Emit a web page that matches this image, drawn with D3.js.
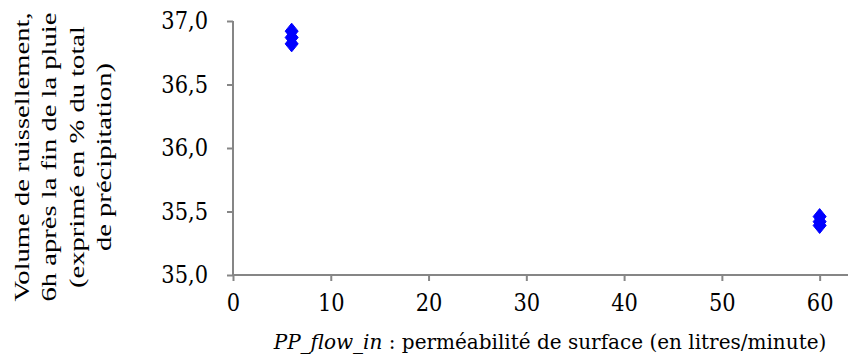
<!DOCTYPE html>
<html><head><meta charset="utf-8">
<script src="https://cdn.jsdelivr.net/npm/d3@7"></script>
<style>body{margin:0;background:#fff}svg{display:block}</style>
</head><body>
<svg id="c" width="861" height="356"></svg>
<script>
const xValues = [6, 6, 6, 60, 60, 60];
const yValues = [36.92, 36.87, 36.82, 35.46, 35.42, 35.39];
const xTicks = [0, 10, 20, 30, 40, 50, 60];
const yTicks = [35.0, 35.5, 36.0, 36.5, 37.0];
const yTitleLines = ["Volume de ruissellement,", "6h après la fin de la pluie", "(exprimé en % du total", "de précipitation)"];

const svg = d3.select("#c");
const x = d3.scaleLinear().domain([0, 62.9]).range([233, 848]);
const y = d3.scaleLinear().domain([35, 37]).range([275, 21]);
const axisColor = "#868686";
const fmt = d => d3.format(".1f")(d).replace(".", ",");

const xAxis = svg.append("g").attr("transform", "translate(0,275)")
  .call(d3.axisBottom(x).tickValues(xTicks).tickSize(6).tickPadding(10).tickFormat(d3.format("d")));
const yAxis = svg.append("g").attr("transform", "translate(233,0)")
  .call(d3.axisLeft(y).tickValues(yTicks).tickSize(6).tickPadding(19).tickFormat(fmt));
[xAxis, yAxis].forEach(a => {
  a.select(".domain").attr("stroke", axisColor).attr("stroke-width", 2);
  a.selectAll(".tick line").attr("stroke", axisColor).attr("stroke-width", 2);
  a.selectAll("text").attr("fill", "#000").attr("font-family", "DejaVu Serif").attr("font-size", 21)
    .attr("transform", "scale(1,1.15)");
});
xAxis.select(".domain").attr("d", `M${x(0)},0H${x.range()[1]}`);
yAxis.select(".domain").attr("d", `M0,${y(35)}V${y(37)}`);

const diamond = "M0,-8L6.5,0L0,8L-6.5,0Z";
svg.append("g").selectAll("path").data(xValues.map((v, i) => [v, yValues[i]])).join("path")
  .attr("d", diamond).attr("transform", d => `translate(${x(d[0])},${y(d[1])})`)
  .attr("fill", "#0000ff").attr("stroke", "#0000ff").attr("stroke-width", 1);

const xt = svg.append("text").attr("x", 550).attr("y", 349).attr("text-anchor", "middle")
  .attr("font-family", "DejaVu Serif").attr("font-size", 20).attr("fill", "#000");
xt.append("tspan").attr("font-style", "italic").text("PP_flow_in");
xt.append("tspan").text(" : perméabilité de surface (en litres/minute)");

const yt = svg.append("g").attr("transform", "translate(0,157) rotate(-90)");
yTitleLines.forEach((t, i) => {
  yt.append("text").attr("x", 0).attr("y", 29 + i * 27.5).attr("text-anchor", "middle")
    .attr("transform", "scale(1.3,1)")
    .attr("font-family", "Liberation Serif").attr("font-size", 22).attr("fill", "#000").text(t);
});
</script>
</body></html>
